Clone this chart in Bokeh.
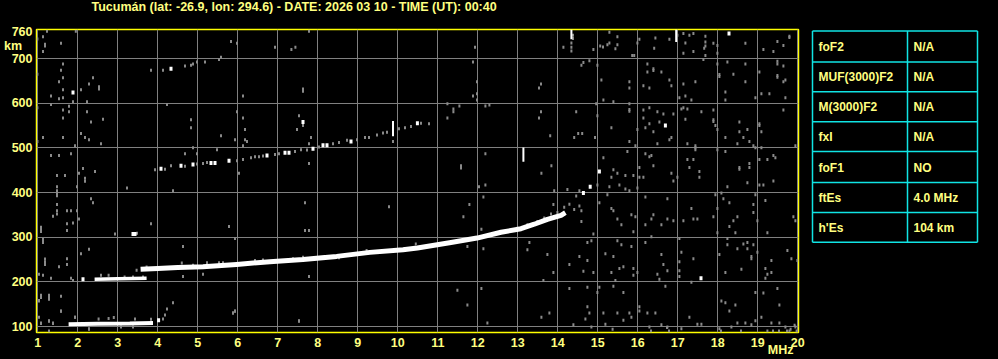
from bokeh.plotting import figure
from bokeh.layouts import row
from bokeh.models import Range1d, FixedTicker, LinearAxis, Title
from bokeh.core.properties import value
from bokeh.embed import file_html
from bokeh.resources import INLINE

# ---------------- data ----------------
TITLE = "Tucumán (lat: -26.9, lon: 294.6) - DATE: 2026 03 10 - TIME (UT): 00:40"
x_ticks = list(range(1, 21))
y_ticks = [100, 200, 300, 400, 500, 600, 700, 760]
y_grid_ticks = [100, 200, 300, 400, 500, 600, 700]
y_unit = "km"
x_unit = "MHz"

# sporadic E trace and its second hop (MHz, km)
es_freq = [1.77, 2.5, 3.3, 3.88]
es_height = [105, 106, 107, 108]
es2_freq = [2.42, 3.0, 3.72]
es2_height = [206, 207, 208]

# F trace
f_freq = [3.57, 4.0, 4.5, 5.13, 5.97, 6.8, 7.63, 8.47, 9.3, 10.13, 10.49,
          11.33, 11.98, 12.58, 13.08, 13.41, 13.74, 14.08, 14.19]
f_height = [228, 230, 232, 234, 239, 245, 250, 257, 266, 272, 276,
            288, 298, 311, 319, 329, 340, 349, 355]

# second hop of the F trace and other bright cells
f2_white = [(4.08, 453), (4.58, 460), (4.88, 463), (5.33, 466), (5.43, 466),
            (5.78, 471), (6.73, 483), (7.18, 489), (7.28, 489), (7.88, 498),
            (8.13, 506), (8.23, 506), (8.83, 514), (10.49, 555),
            (2.13, 206), (3.38, 307), (3.43, 307), (4.02, 114),
            (14.64, 399), (14.81, 413)]
f2_gray = [(4.18, 452), (4.33, 460), (4.68, 459), (4.98, 464), (5.13, 465),
           (5.23, 467), (5.98, 471), (6.13, 474), (6.33, 478), (6.43, 480),
           (6.53, 480), (6.63, 482), (6.93, 485), (7.03, 487), (7.43, 492),
           (7.58, 496), (7.73, 495), (8.03, 502), (8.38, 509), (8.53, 512),
           (8.73, 517), (8.98, 518), (9.18, 523), (9.28, 523), (9.48, 529),
           (9.63, 533), (9.73, 535), (10.03, 543), (10.18, 545), (10.33, 548),
           (10.58, 555), (10.78, 554)]

# vertical interference spikes (MHz, km from, km to)
spike_freq = [9.88, 13.14, 14.34, 16.96]
spike_low = [526, 469, 743, 737]
spike_high = [560, 501, 765, 765]

noise_white = [(1.88, 624), (4.33, 677), (7.63, 558), (16.69, 550),
               (15.04, 447), (17.58, 208), (18.28, 756)]

noise_gray = [
    (1.23, 761), (1.95, 761), (1.13, 749), (1.18, 732), (1.18, 728), (1.58, 734),
    (1.13, 716), (5.83, 738), (5.98, 734), (6.93, 725), (7.34, 720), (7.44, 725),
    (7.78, 761), (1.63, 688), (1.58, 674), (1.63, 657), (1.53, 648), (1.63, 630),
    (1.33, 616), (1.53, 610), (1.63, 612), (1.88, 603), (2.23, 603), (2.08, 630),
    (2.28, 643), (2.38, 657), (2.53, 637), (2.53, 632), (1.33, 597), (1.78, 593),
    (1.63, 585), (1.78, 581), (2.23, 581), (1.63, 567), (2.63, 564), (2.33, 558),
    (1.13, 523), (1.63, 523), (2.08, 532), (2.18, 523), (2.28, 518), (2.58, 509),
    (1.93, 505), (1.83, 487), (1.33, 483), (1.53, 483), (2.13, 454), (2.03, 443),
    (2.43, 447), (1.48, 438), (1.68, 438), (2.18, 432), (3.83, 674), (4.13, 674),
    (4.68, 683), (4.83, 685), (4.88, 688), (4.98, 692), (5.18, 692), (5.53, 698),
    (5.58, 703), (6.13, 616), (4.23, 597), (5.98, 581), (4.83, 563), (6.13, 567),
    (4.83, 545), (6.18, 541), (5.58, 527), (5.93, 518), (6.18, 518), (6.23, 514),
    (6.13, 505), (7.63, 627), (7.63, 632), (7.53, 572), (7.48, 541), (7.63, 550),
    (7.83, 523), (7.78, 509), (7.78, 465), (5.48, 496), (4.88, 500), (4.68, 487),
    (4.98, 487), (3.93, 451), (6.03, 443), (9.88, 514),
    (0.99, 744), (0.99, 665), (0.99, 590), (0.99, 514),
    (11.93, 725), (11.88, 692), (11.98, 648), (11.98, 621), (11.88, 616), (11.98, 607),
    (13.58, 643), (13.53, 634), (11.24, 599), (11.39, 581), (11.39, 587), (11.24, 567),
    (11.54, 594), (12.19, 594), (12.29, 596), (13.58, 581), (13.53, 567), (13.81, 527),
    (14.51, 532), (14.61, 532), (14.41, 523), (14.46, 581), (14.96, 599), (14.99, 572),
    (14.93, 523), (12.19, 487), (11.58, 460), (11.58, 455), (13.59, 443), (13.84, 460),
    (14.14, 725), (14.38, 752), (14.38, 745), (14.34, 735), (14.34, 725), (14.34, 717),
    (14.89, 720), (15.06, 728), (15.13, 726), (15.24, 731), (15.29, 735), (15.29, 759),
    (15.49, 749), (15.44, 722), (15.49, 731), (15.99, 735), (16.04, 743), (15.86, 707),
    (15.91, 707), (16.44, 746), (16.41, 723), (16.79, 743), (16.99, 752), (17.14, 756),
    (17.29, 752), (17.39, 756), (17.69, 750), (17.69, 737), (17.66, 723), (17.69, 728),
    (17.69, 707), (17.64, 698), (17.19, 735), (17.14, 712), (17.39, 716), (17.89, 734),
    (17.99, 729), (17.99, 712), (18.69, 734), (19.14, 720), (19.39, 716), (19.49, 738),
    (19.64, 729), (19.79, 747), (19.79, 750), (14.64, 691), (14.59, 685), (14.79, 695),
    (14.99, 685), (16.24, 688), (16.39, 677), (16.39, 673), (16.24, 670), (16.59, 670),
    (15.09, 652), (15.79, 648), (15.79, 634), (16.14, 639), (16.29, 634), (16.79, 652),
    (16.84, 639), (17.14, 643), (17.44, 648), (17.04, 612), (17.19, 616), (17.34, 607),
    (17.99, 688), (18.04, 664), (18.04, 660), (18.24, 692), (18.39, 665), (18.69, 688),
    (18.69, 648), (19.04, 670), (19.49, 694), (19.49, 688), (19.64, 683), (19.49, 662),
    (19.49, 658), (19.69, 652), (19.64, 648), (19.09, 621), (19.29, 621), (18.94, 612),
    (19.69, 612), (18.19, 625), (18.19, 607), (15.14, 607), (15.39, 603), (15.79, 599),
    (15.79, 582), (15.79, 586), (16.14, 585), (16.29, 590), (16.49, 581), (16.64, 576),
    (16.89, 576), (16.14, 567), (16.29, 554), (16.54, 558), (16.19, 545), (16.39, 536),
    (15.99, 541), (15.34, 545), (17.09, 587), (17.14, 590), (17.19, 564), (17.24, 587),
    (17.59, 581), (17.89, 585), (17.89, 563), (17.89, 559), (17.94, 550), (17.99, 541),
    (18.54, 558), (18.54, 536), (18.74, 541), (18.64, 523), (19.04, 554), (19.04, 550),
    (19.09, 536), (18.19, 523), (18.49, 509), (18.79, 514), (18.89, 505), (19.64, 585),
    (19.94, 505), (18.94, 500), (19.09, 500), (16.84, 523), (16.79, 518), (16.49, 509),
    (15.79, 514), (15.94, 505), (15.74, 492), (15.14, 478), (15.39, 451), (15.49, 443),
    (15.69, 438), (15.34, 434), (15.89, 438), (16.04, 456), (16.39, 460), (16.19, 487),
    (16.34, 483), (16.29, 480), (17.24, 509), (17.44, 505), (17.44, 496), (17.44, 500),
    (17.24, 474), (17.39, 474), (17.29, 456), (17.54, 447), (17.54, 434), (17.99, 496),
    (18.19, 492), (18.54, 456), (18.54, 452), (18.79, 465), (18.79, 456), (19.04, 474),
    (19.24, 474), (19.39, 483), (19.44, 478), (16.84, 443), (16.99, 434), (16.04, 434),
    (16.14, 434),
    (1.48, 413), (1.48, 404), (1.48, 398), (1.48, 393), (1.98, 413), (2.18, 425),
    (3.23, 410), (4.38, 404), (2.33, 386), (2.38, 377), (1.48, 373), (1.48, 359),
    (1.48, 352), (1.38, 347), (1.73, 359), (1.83, 359), (1.98, 359), (2.03, 341),
    (1.88, 332), (1.73, 330), (1.73, 315), (1.08, 322), (1.08, 317), (1.08, 313),
    (3.83, 330), (5.78, 324), (5.93, 297), (7.68, 377), (7.68, 315), (7.78, 315),
    (9.78, 368), (1.13, 295), (1.13, 288), (2.28, 273), (2.08, 263), (4.63, 279),
    (1.18, 251), (1.18, 245), (1.18, 239), (1.73, 252), (1.73, 239), (1.53, 234),
    (1.03, 217), (1.13, 215), (1.33, 208), (1.83, 208), (1.88, 203), (4.63, 212),
    (5.13, 217), (7.78, 212), (1.08, 170), (1.08, 165), (1.28, 170), (1.28, 165),
    (1.58, 168), (1.03, 157), (1.58, 135), (5.93, 135), (5.88, 130), (7.53, 113),
    (1.03, 121), (1.93, 121), (1.28, 113), (1.08, 108), (1.38, 108), (2.28, 95),
    (1.28, 90), (2.93, 307), (3.48, 309),
    (2.52, 117), (2.77, 118), (2.90, 120), (3.43, 117), (3.83, 116), (3.08, 99),
    (3.38, 99), (2.58, 215), (2.77, 215), (3.17, 211), (3.38, 211), (3.63, 211),
    (3.47, 226), (3.72, 233), (4.6, 242), (4.88, 237), (5.23, 243), (5.53, 243),
    (5.63, 243), (6.43, 248), (6.63, 249), (7.38, 252), (7.63, 255), (8.53, 254),
    (9.22, 270), (10.45, 285), (4.13, 117), (4.18, 126), (4.23, 139), (4.38, 153),
    (14.16, 367), (14.41, 362), (14.29, 374), (14.54, 370), (14.59, 359), (13.49, 335),
    (13.66, 343), (13.83, 352), (13.99, 355), (13.24, 328), (12.99, 320), (14.54, 404),
    (14.46, 392),
    (12.03, 413), (12.19, 417), (13.91, 404), (14.24, 407), (14.99, 417), (15.29, 413),
    (15.54, 417), (15.69, 408), (15.79, 404), (15.99, 410), (16.89, 426), (18.24, 413),
    (18.74, 422), (19.04, 417), (19.14, 417), (19.39, 426), (12.14, 390), (11.79, 373),
    (11.64, 346), (12.09, 318), (12.14, 274), (11.74, 279), (13.29, 288), (13.24, 272),
    (13.89, 373), (14.59, 335), (14.89, 307), (15.04, 377), (15.24, 395), (15.34, 364),
    (15.39, 359), (15.49, 341), (15.59, 328), (15.84, 350), (15.94, 346), (15.89, 312),
    (16.19, 390), (16.19, 328), (16.39, 350), (16.34, 341), (16.59, 328), (16.74, 386),
    (16.74, 341), (16.89, 337), (17.14, 337), (17.34, 364), (17.39, 341), (17.49, 341),
    (17.94, 395), (18.09, 399), (18.14, 386), (18.29, 377), (17.89, 346), (17.99, 364),
    (17.99, 310), (18.49, 346), (18.39, 337), (18.29, 324), (18.44, 310), (18.89, 373),
    (18.89, 355), (18.94, 395), (19.19, 382), (18.99, 337), (19.24, 310), (19.89, 346),
    (19.94, 337), (14.74, 288), (14.84, 292), (15.49, 292), (15.59, 283), (15.84, 279),
    (16.19, 288), (16.34, 301), (17.04, 297), (18.24, 297), (18.24, 283), (18.64, 285),
    (18.74, 288), (18.89, 283), (18.49, 274), (18.74, 274), (18.99, 266), (19.74, 270),
    (19.84, 252), (19.99, 248), (19.34, 248), (18.84, 257), (18.84, 252), (18.04, 261),
    (17.39, 252), (17.09, 266), (17.04, 245), (16.59, 261), (16.64, 239), (16.74, 225),
    (16.49, 217), (16.54, 206), (16.69, 190), (17.04, 225), (17.04, 212), (17.34, 199),
    (18.19, 221), (18.59, 228), (19.19, 230), (19.34, 221), (19.24, 217), (19.19, 208),
    (19.49, 185), (18.94, 176), (19.14, 175), (15.19, 263), (15.39, 257), (14.74, 248),
    (14.29, 239), (14.64, 224), (14.89, 221), (15.34, 221), (15.54, 230), (15.64, 234),
    (15.89, 230), (15.89, 215), (15.99, 221), (15.44, 203), (14.74, 188), (15.04, 188),
    (15.39, 190), (15.64, 176), (13.64, 203), (13.89, 221), (13.74, 261), (14.54, 257),
    (11.49, 181), (12.09, 185), (11.74, 148), (12.24, 108), (13.59, 121), (13.79, 130),
    (14.29, 185), (14.99, 176), (14.74, 144), (14.79, 130), (14.69, 117), (15.14, 130),
    (15.19, 105), (14.39, 104), (14.84, 99), (15.49, 130), (15.64, 114), (15.79, 130),
    (15.84, 121), (16.04, 144), (16.04, 135), (16.24, 130), (16.44, 130), (16.29, 99),
    (16.59, 104), (16.74, 99), (17.09, 95), (17.29, 121), (17.49, 105), (17.59, 105),
    (18.09, 157), (18.19, 153), (18.44, 148), (18.29, 135), (18.49, 108), (18.69, 108),
    (18.84, 104), (18.94, 113), (19.09, 121), (19.34, 108), (19.54, 108), (19.69, 99),
    (19.94, 99), (19.79, 90), (19.24, 90), (19.54, 148), (18.04, 95), (18.34, 99),
    (19.97, 90), (19.73, 90), (19.53, 90), (19.38, 90), (19.82, 94), (19.92, 103),
    (16.78, 90), (16.73, 98), (16.33, 90), (15.37, 94), (18.08, 90), (18.58, 90),
    (1.03, 158), (1.28, 161), (1.58, 134), (1.08, 107), (1.28, 112), (1.38, 107),
    (1.93, 121), (2.28, 94), (5.88, 130), (5.93, 134), (7.53, 112),
]

param_names = ["foF2", "MUF(3000)F2", "M(3000)F2", "fxI", "foF1", "ftEs", "h'Es"]
param_values = ["N/A", "N/A", "N/A", "N/A", "NO", "4.0 MHz", "104 km"]

# ---------------- style ----------------
FONT = "Liberation Sans"
TXT = "#ffff80"
BORDER = "#ffff00"
GRID = "#808080"
GRAY = "#8a8a8a"
CYAN = "#10e4e4"

W_MAIN = 808
H = 359
TOP, BOTTOM = 29, 26

p = figure(width=W_MAIN, height=H, title=None,
           x_range=Range1d(0.9675, 20.0175), y_range=Range1d(86.6, 765.0),
           output_backend="svg", toolbar_location=None,
           min_border_left=36, min_border_right=W_MAIN - 798,
           min_border_top=TOP, min_border_bottom=BOTTOM,
           background_fill_color="black", border_fill_color="black",
           outline_line_color=BORDER, outline_line_width=1.5)

# invisible spacer title next to the frame, real title stacked above it
spacer = Title(text="\u00a0", standoff=0, text_font=FONT, text_font_size="12.5px",
               text_color="black")
p.add_layout(spacer, "above")
main_title = Title(text=TITLE, align="left", offset=55, standoff=-4,
                   vertical_align="top",
                   text_font=FONT, text_font_size="12.5px", text_font_style="bold",
                   text_color=TXT)
p.add_layout(main_title, "above")

p.xaxis.ticker = FixedTicker(ticks=x_ticks)
km_pos = 729
p.yaxis.ticker = FixedTicker(ticks=y_ticks + [km_pos])
p.yaxis.major_label_overrides = {km_pos: y_unit + "\u00a0\u00a0\u00a0"}
p.xgrid.ticker = FixedTicker(ticks=x_ticks)
p.ygrid.ticker = FixedTicker(ticks=y_grid_ticks)
for g in (p.xgrid, p.ygrid):
    g.grid_line_color = GRID
    g.grid_line_width = 1

# extra bottom axis carrying only the unit label
mhz_pos = 19.57
unit_axis = LinearAxis(ticker=FixedTicker(ticks=[mhz_pos]),
                       major_label_overrides={mhz_pos: x_unit})
p.add_layout(unit_axis, "below")

for ax in (p.xaxis + p.yaxis):
    ax.axis_line_color = None
    ax.major_tick_line_color = None
    ax.minor_tick_line_color = None
    ax.major_tick_out = 0
    ax.major_tick_in = 0
    ax.major_label_text_color = TXT
    ax.major_label_text_font = FONT
    ax.major_label_text_font_size = "12.5px"
    ax.major_label_text_font_style = "bold"
p.xaxis[0].major_label_standoff = 5
unit_axis.major_label_standoff = -7
p.yaxis.major_label_standoff = 4

# noise cells
ng_f = [a for a, b in noise_gray]
ng_h = [b for a, b in noise_gray]
p.rect(x=ng_f, y=ng_h, width=2, height=3, width_units="screen", height_units="screen",
       fill_color=GRAY, line_color=None)
g2_f = [a for a, b in f2_gray]
g2_h = [b for a, b in f2_gray]
p.rect(x=g2_f, y=g2_h, width=2, height=3, width_units="screen", height_units="screen",
       fill_color=GRAY, line_color=None)

# traces
p.line(es_freq, es_height, line_color="white", line_width=4)
p.line(es2_freq, es2_height, line_color="white", line_width=3.5)
p.line(f_freq, f_height, line_color="white", line_width=5, line_join="round")

w_f = [a for a, b in f2_white + noise_white]
w_h = [b for a, b in f2_white + noise_white]
p.rect(x=w_f, y=w_h, width=3, height=4, width_units="screen", height_units="screen",
       fill_color="white", line_color=None)

p.segment(x0=spike_freq, y0=spike_low, x1=spike_freq, y1=spike_high,
          line_color="white", line_width=2)

# ---------------- parameter table ----------------
# page-pixel coordinates; frame aligned with the main frame (29 .. 333)
t = figure(width=998 - W_MAIN, height=H,
           x_range=Range1d(W_MAIN, 998), y_range=Range1d(H - BOTTOM, TOP),
           output_backend="svg", toolbar_location=None,
           x_axis_location=None, y_axis_location=None,
           min_border_left=0, min_border_right=0,
           min_border_top=TOP, min_border_bottom=BOTTOM,
           background_fill_color="black", border_fill_color="black",
           outline_line_color=None)
t.grid.visible = False

tab_left, tab_mid, tab_right = 812, 907, 977
row_edges = [30.5, 61.5, 91.5, 121.5, 151.5, 182.5, 212.5, 242.5]
t.segment(x0=[tab_left] * len(row_edges), y0=row_edges,
          x1=[tab_right] * len(row_edges), y1=row_edges,
          line_color=CYAN, line_width=1.5)
t.segment(x0=[tab_left, tab_mid, tab_right], y0=[row_edges[0]] * 3,
          x1=[tab_left, tab_mid, tab_right], y1=[row_edges[-1]] * 3,
          line_color=CYAN, line_width=1.5)
centers = [(row_edges[i] + row_edges[i + 1]) / 2 + 0.5 for i in range(len(param_names))]
t.text(x=[tab_left + 6] * len(param_names), y=centers, text=param_names,
       text_font=value(FONT), text_font_size="12px", text_font_style="bold",
       text_color=TXT, text_baseline="middle", text_align="left")
t.text(x=[tab_mid + 6] * len(param_values), y=centers, text=param_values,
       text_font=value(FONT), text_font_size="12px", text_font_style="bold",
       text_color=TXT, text_baseline="middle", text_align="left")

layout = row(p, t)
layout.styles = {"background-color": "black"}
html = file_html(layout, INLINE)
html = html.replace("<body>", '<body style="margin:0;background:#000">', 1)
open("out.html", "w").write(html)
